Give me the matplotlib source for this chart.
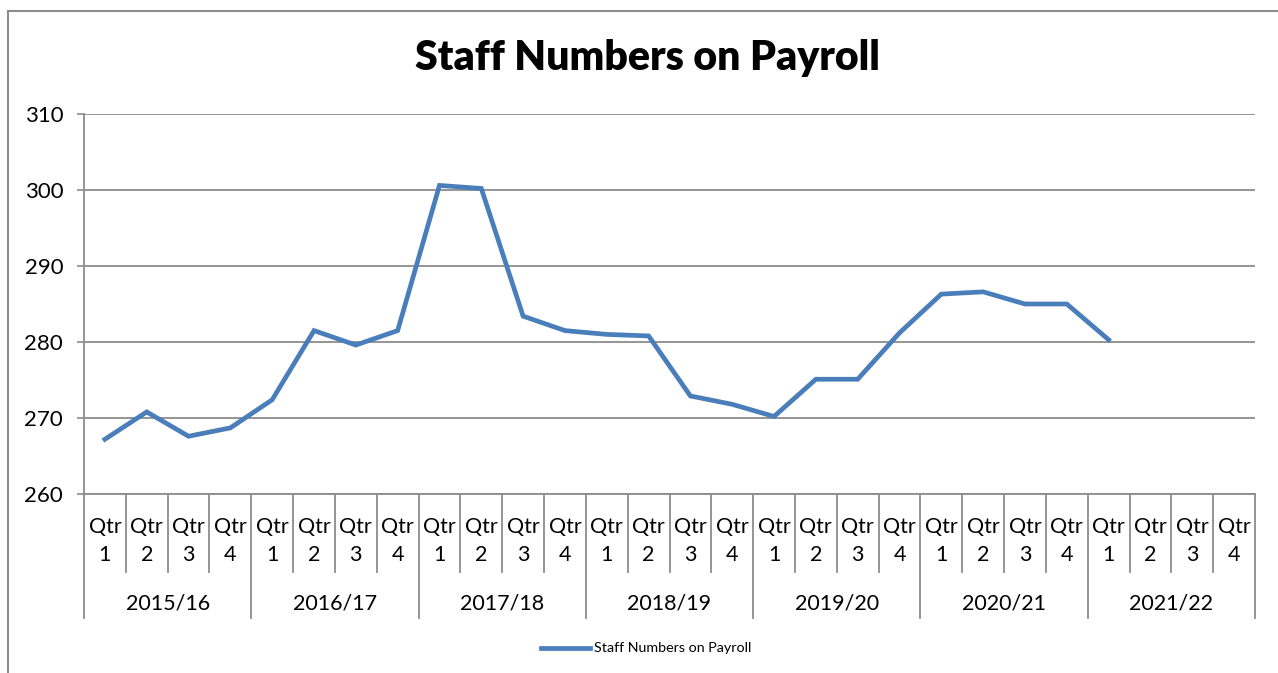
import matplotlib
matplotlib.use('Agg')
import matplotlib.pyplot as plt
from matplotlib.lines import Line2D

plt.rcParams['font.family'] = ['Lato', 'DejaVu Sans']

# Данные
years = ['2015/16', '2016/17', '2017/18', '2018/19', '2019/20', '2020/21', '2021/22']
quarters = ['Qtr\n1', 'Qtr\n2', 'Qtr\n3', 'Qtr\n4']
staff = [267.2, 270.8, 267.6, 268.7, 272.4, 281.5, 279.6, 281.5,
         300.6, 300.2, 283.4, 281.5, 281.0, 280.8, 272.9, 271.8,
         270.2, 275.1, 275.1, 281.2, 286.3, 286.6, 285.0, 285.0,
         280.3]
series_name = 'Staff Numbers on Payroll'

W, H = 1278, 673
fig = plt.figure(figsize=(W / 100, H / 100), dpi=100)

# Рамка диаграммы
fig.add_artist(Line2D([7.5 / W, 7.5 / W], [0, 1 - 11 / H], color='#8c8c8c', lw=1.5))
fig.add_artist(Line2D([7.5 / W, 1], [1 - 11 / H, 1 - 11 / H], color='#8c8c8c', lw=1.5))

left, right, top, bottom = 84, 1255, 114, 494
ax = fig.add_axes([left / W, 1 - bottom / H, (right - left) / W, (bottom - top) / H])

n_cat = len(years) * len(quarters)
ax.plot(range(len(staff)), staff, color='#4a7ebb', lw=3.4, solid_joinstyle='miter')

ax.set_xlim(-0.5, n_cat - 0.5)
ax.set_ylim(260, 310)
ax.set_yticks(range(260, 311, 10))
ax.yaxis.grid(True, color='#8c8c8c', lw=1.3)
ax.set_axisbelow(True)
ax.tick_params(axis='y', length=5, width=1.2, color='#8c8c8c', labelsize=16, pad=10)
ax.set_xticks([])
for s in ['top', 'right']:
    ax.spines[s].set_visible(False)
for s in ['left', 'bottom']:
    ax.spines[s].set_color('#8c8c8c')
    ax.spines[s].set_linewidth(1.3)

# Подписи категорий (два уровня)
ph = bottom - top
tr = ax.get_xaxis_transform()
for i in range(n_cat + 1):
    low = -124 / ph if i % 4 == 0 else -78 / ph
    ax.plot([i - 0.5, i - 0.5], [0, low], transform=tr, color='#8c8c8c', lw=1.3, clip_on=False)
for i in range(n_cat):
    ax.text(i, -47 / ph, quarters[i % 4], transform=tr, ha='center', va='center',
            fontsize=15.5, linespacing=1.55)
for j, y in enumerate(years):
    ax.text(j * 4 + 1.5, -110 / ph, y, transform=tr, ha='center', va='center', fontsize=15.5)

fig.text(647 / W, 1 - 58 / H, 'Staff Numbers on Payroll', ha='center', va='center',
         fontsize=29.5, fontweight='heavy')

# Легенда
fig.add_artist(Line2D([541 / W, 590 / W], [1 - 648 / H, 1 - 648 / H], color='#4a7ebb', lw=3.4))
fig.text(594 / W, 1 - 648 / H, series_name, ha='left', va='center', fontsize=10.3)

fig.savefig('out.png', dpi=100)
